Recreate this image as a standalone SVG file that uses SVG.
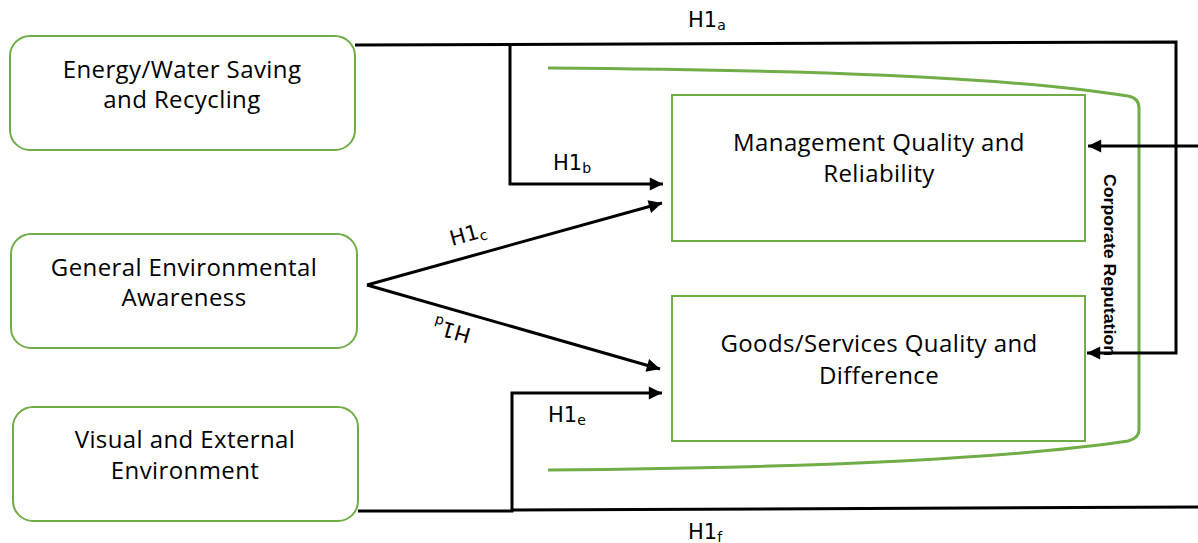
<svg xmlns="http://www.w3.org/2000/svg" width="1198" height="543" viewBox="0 0 1198 543">
  <defs>
    <marker id="arrow" viewBox="0 0 10 10" refX="10" refY="5" markerWidth="5" markerHeight="4.4" markerUnits="strokeWidth" orient="auto">
      <path d="M0,0 L10,5 L0,10 z" fill="#000"/>
    </marker>
    <style>
      .src { fill: #fff; stroke: #70AD47; stroke-width: 2; }
      .dst { fill: #fff; stroke: #70AD47; stroke-width: 2; }
      .label { font-family: "Open Sans", "Liberation Sans", sans-serif; font-size: 24px; letter-spacing: 0.4px; fill: #000; text-anchor: middle; }
      .hyp { font-family: "DejaVu Sans", "Liberation Sans", sans-serif; font-size: 21px; fill: #000; }
      .sub { font-size: 14px; }
      .wire { fill: none; stroke: #000; stroke-width: 3; }
      .arrowed { marker-end: url(#arrow); }
      .band { fill: none; stroke: #70AD47; stroke-width: 3; }
      .side { font-family: "Liberation Sans", "Open Sans", sans-serif; font-weight: bold; font-size: 17px; fill: #000; text-anchor: middle; }
    </style>
  </defs>

  <!-- Reputation band enclosing the two outcome boxes -->
  <path class="band" d="M548,68 C800,70 1000,76 1128,96 Q1139,98 1139,108 L1139,430 Q1139,438 1128,441 C1000,460 800,468 548,470"/>

  <g id="energy-water">
    <rect class="src" x="10" y="36" width="345" height="114" rx="20"/>
    <text class="label" x="182" y="78">Energy/Water Saving</text>
    <text class="label" x="182" y="108">and Recycling</text>
  </g>

  <g id="general-awareness">
    <rect class="src" x="11" y="234" width="346" height="114" rx="20"/>
    <text class="label" x="184" y="276">General Environmental</text>
    <text class="label" x="184" y="306">Awareness</text>
  </g>

  <g id="visual-external">
    <rect class="src" x="13" y="407" width="345" height="114" rx="20"/>
    <text class="label" x="185" y="448">Visual and External</text>
    <text class="label" x="185" y="479">Environment</text>
  </g>

  <g id="management-quality">
    <rect class="dst" x="672" y="95" width="413" height="146"/>
    <text class="label" x="879" y="151">Management Quality and</text>
    <text class="label" x="879" y="182">Reliability</text>
  </g>

  <g id="goods-services">
    <rect class="dst" x="672" y="296" width="413" height="145"/>
    <text class="label" x="879" y="352">Goods/Services Quality and</text>
    <text class="label" x="879" y="384">Difference</text>
  </g>

  <g id="corporate-reputation">
    <text class="side" transform="translate(1104,265) rotate(90)" textLength="182" lengthAdjust="spacingAndGlyphs">Corporate Reputation</text>
  </g>

  <g id="connectors">
    <!-- H1a: energy/water to goods/services via the outer loop -->
    <path class="wire arrowed" d="M355,45 L1176,42 L1176,353 L1087,353"/>
    <!-- H1b -->
    <path class="wire arrowed" d="M510,45 L510,184 L663,184"/>
    <!-- H1c / H1d -->
    <path class="wire arrowed" d="M367,285 L662,203"/>
    <path class="wire arrowed" d="M367,285 L660,369"/>
    <!-- H1e -->
    <path class="wire arrowed" d="M358,511 L512,511 L512,393 L662,393"/>
    <!-- H1f -->
    <path class="wire" d="M512,510 L1198,507"/>
    <!-- incoming link to management quality -->
    <path class="wire arrowed" d="M1198,146 L1088,146"/>

    <text class="hyp" x="688" y="27">H1<tspan class="sub" dy="3">a</tspan></text>
    <text class="hyp" x="553" y="170">H1<tspan class="sub" dy="3">b</tspan></text>
    <text class="hyp" transform="translate(452,246) rotate(-15.5)">H1<tspan class="sub" dy="3">c</tspan></text>
    <text class="hyp" transform="translate(472,329) rotate(196)">H1<tspan class="sub" dy="3">d</tspan></text>
    <text class="hyp" x="548" y="422">H1<tspan class="sub" dy="3">e</tspan></text>
    <text class="hyp" x="688" y="539">H1<tspan class="sub" dy="3">f</tspan></text>
  </g>
</svg>
